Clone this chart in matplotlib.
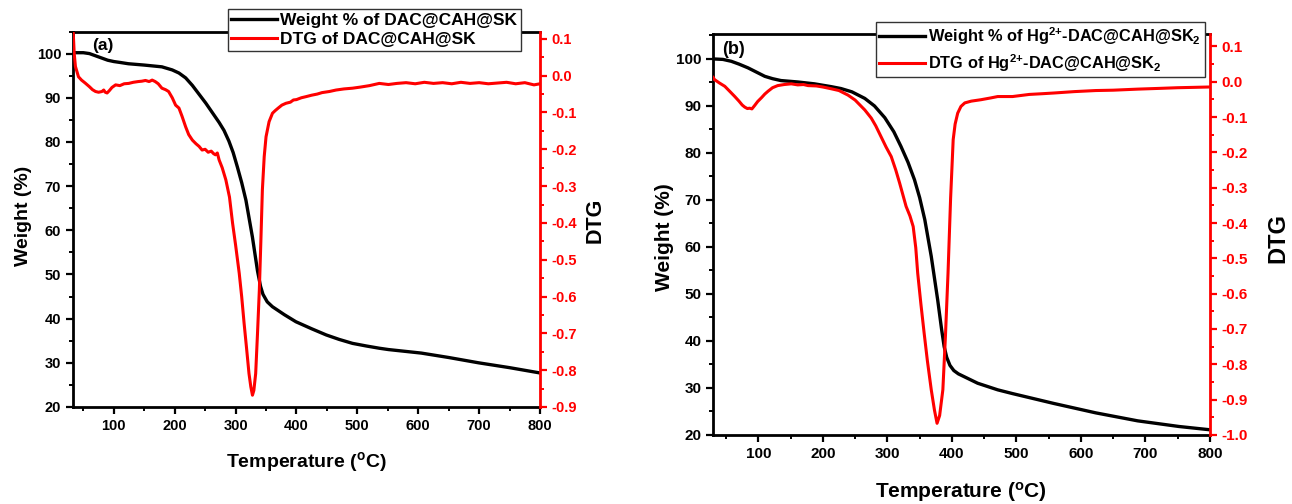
import matplotlib
matplotlib.use('Agg')
import matplotlib.pyplot as plt
from matplotlib.ticker import MultipleLocator, FuncFormatter

FONT = 'Liberation Sans'
plt.rcParams['font.family'] = [FONT, 'DejaVu Sans']
plt.rcParams['font.weight'] = 'bold'
plt.rcParams['mathtext.fontset'] = 'custom'
plt.rcParams['mathtext.rm'] = FONT + ':bold'
plt.rcParams['mathtext.bf'] = FONT + ':bold'
plt.rcParams['mathtext.default'] = 'bf'

# (a) DAC@CAH@SK
temp_wa = [33, 50, 60, 70, 80, 90, 100, 110, 124, 150, 179, 196, 207, 218, 229, 240, 251, 262,
           273, 281, 289, 296, 303, 310, 317, 327.6, 336, 341, 345, 352, 360.5, 380, 399, 425,
           449, 470, 492, 515, 536, 551, 605, 650, 699, 750, 800]
weight_a = [100.2, 100.2, 100.0, 99.5, 99.0, 98.5, 98.2, 98.0, 97.7, 97.4, 97.0, 96.3, 95.6,
            94.5, 92.8, 90.8, 88.8, 86.6, 84.4, 82.6, 80.2, 77.6, 74.3, 70.8, 66.8, 58.5, 50.8,
            47.3, 45.5, 43.8, 42.7, 40.9, 39.3, 37.7, 36.3, 35.3, 34.4, 33.8, 33.3, 33.0, 32.2,
            31.2, 30.0, 28.9, 27.7]
temp_da = [33, 35, 37, 42, 47, 53, 60, 65, 70, 75, 80.6, 83.4, 86, 89, 93, 97, 103, 110, 117,
           124.5, 132, 140, 146, 152, 158, 163, 168, 173, 179, 185, 190, 196, 201.5, 207, 212,
           218, 223, 229, 235, 240, 245, 250, 255, 260, 264, 267, 270, 273, 278, 284, 290, 295,
           300, 306, 310, 314, 318, 322, 325, 327.7, 330, 333, 336, 339, 341.5, 344, 347, 350,
           355, 360.6, 365, 370, 376, 382.7, 390, 395, 400, 408, 415.6, 425, 434, 442, 454, 465,
           478, 492, 505, 520, 536, 551, 565, 580, 595, 610, 625, 640, 655, 670, 685, 700, 715,
           730, 745, 760, 775, 790, 800]
dtg_a = [0.13, 0.06, 0.025, -0.003, -0.012, -0.020, -0.030, -0.038, -0.043, -0.045, -0.043,
         -0.039, -0.045, -0.047, -0.040, -0.032, -0.025, -0.027, -0.022, -0.021, -0.018, -0.016,
         -0.015, -0.013, -0.016, -0.012, -0.016, -0.022, -0.034, -0.038, -0.043, -0.060, -0.080,
         -0.088, -0.110, -0.139, -0.160, -0.175, -0.185, -0.192, -0.202, -0.200, -0.208, -0.205,
         -0.212, -0.215, -0.210, -0.229, -0.250, -0.283, -0.330, -0.400, -0.460, -0.537, -0.600,
         -0.673, -0.740, -0.809, -0.845, -0.868, -0.855, -0.809, -0.700, -0.583, -0.450, -0.310,
         -0.220, -0.166, -0.125, -0.102, -0.095, -0.088, -0.080, -0.075, -0.072, -0.066, -0.065,
         -0.060, -0.057, -0.053, -0.050, -0.046, -0.043, -0.039, -0.036, -0.034, -0.031, -0.027,
         -0.021, -0.024, -0.021, -0.019, -0.022, -0.018, -0.021, -0.019, -0.022, -0.018, -0.021,
         -0.019, -0.022, -0.020, -0.018, -0.022, -0.019, -0.025, -0.022]

# (b) Hg2+-DAC@CAH@SK2
temp_wb = [30, 45, 58, 70, 84, 97, 110, 122, 135, 161, 187, 213, 228, 245, 265, 280, 296, 310,
           321, 332, 342, 350, 358, 368, 378, 384, 388, 392, 397, 403, 410, 425, 440, 471, 494,
           558, 623, 688, 752, 800]
weight_b = [100.0, 99.9, 99.5, 98.9, 98.1, 97.2, 96.3, 95.8, 95.4, 95.1, 94.7, 94.1, 93.7, 93.0,
            91.6, 90.0, 87.5, 84.5, 81.4, 78.0, 74.3, 70.5, 65.8, 58.0, 48.7, 42.5, 38.8, 36.5,
            34.8, 33.7, 33.0, 32.0, 31.0, 29.6, 28.8, 26.7, 24.7, 23.0, 21.8, 21.1]
temp_db = [30, 32, 40, 48, 55, 63.5, 70, 75, 79, 83, 86.5, 90, 94, 99, 105, 110, 115, 122, 130,
           140, 151, 161, 170, 177, 190, 200, 213, 225, 239, 250, 265, 275, 282, 290, 298, 306,
           313, 319, 324, 329, 335, 340, 344, 347, 352, 357, 362, 368, 373, 377, 381, 386, 390,
           394, 398, 402, 405, 409, 414, 420, 430, 445, 460, 471, 494, 520, 540, 558, 590, 623,
           650, 688, 720, 750, 775, 798]
dtg_b = [0.012, 0.006, -0.004, -0.013, -0.026, -0.042, -0.055, -0.066, -0.072, -0.076, -0.075,
         -0.077, -0.068, -0.056, -0.045, -0.035, -0.027, -0.017, -0.011, -0.008, -0.006, -0.009,
         -0.008, -0.011, -0.012, -0.015, -0.020, -0.025, -0.038, -0.052, -0.080, -0.103, -0.125,
         -0.155, -0.185, -0.212, -0.250, -0.287, -0.320, -0.353, -0.380, -0.410, -0.470, -0.542,
         -0.630, -0.712, -0.790, -0.872, -0.930, -0.967, -0.945, -0.872, -0.720, -0.542, -0.330,
         -0.164, -0.120, -0.089, -0.070, -0.060, -0.055, -0.051, -0.046, -0.042, -0.042, -0.036,
         -0.034, -0.032, -0.028, -0.025, -0.024, -0.021, -0.019, -0.017, -0.016, -0.015]

fig = plt.figure(figsize=(12.92, 5.04), dpi=100)
ax_a = fig.add_axes([0.0565, 0.1925, 0.3615, 0.745])
ax_b = fig.add_axes([0.552, 0.137, 0.3845, 0.7955])


def style_panel(ax, ax2, xlim, ylim, y2lim, tick_fs):
    ax.set_xlim(*xlim)
    ax.set_ylim(*ylim)
    ax2.set_ylim(*y2lim)
    ax.xaxis.set_major_locator(MultipleLocator(100))
    ax.xaxis.set_minor_locator(MultipleLocator(50))
    ax.yaxis.set_major_locator(MultipleLocator(10))
    ax.yaxis.set_minor_locator(MultipleLocator(5))
    ax2.yaxis.set_major_locator(MultipleLocator(0.1))
    ax2.yaxis.set_minor_locator(MultipleLocator(0.05))
    ax2.yaxis.set_major_formatter(FuncFormatter(lambda v, p: f'{v:.1f}'.replace('-0.0', '0.0')))
    for s in ['left', 'bottom', 'top']:
        ax.spines[s].set_linewidth(2.0)
        ax.spines[s].set_color('black')
    ax.spines['right'].set_visible(False)
    for s in ['left', 'bottom', 'top']:
        ax2.spines[s].set_visible(False)
    ax2.spines['right'].set_linewidth(2.0)
    ax2.spines['right'].set_color('red')
    ax.tick_params(which='major', direction='out', length=5, width=1.6, labelsize=tick_fs)
    ax.tick_params(which='minor', direction='out', length=3, width=1.4)
    ax2.tick_params(which='major', direction='out', length=5, width=1.6, labelsize=tick_fs,
                    colors='red')
    ax2.tick_params(which='minor', direction='out', length=3, width=1.4, colors='red')


ax_a2 = ax_a.twinx()
la, = ax_a.plot(temp_wa, weight_a, color='black', lw=2.4)
lb, = ax_a2.plot(temp_da, dtg_a, color='red', lw=2.2)
style_panel(ax_a, ax_a2, (33, 800), (20, 105), (-0.9, 0.12), 10.5)
ax_a.text(0.04, 0.983, '(a)', transform=ax_a.transAxes, fontsize=12.5, va='top', ha='left')
fig.text(306 / 1292, 1 - 462 / 504, 'Temperature ($^{o}$C)', fontsize=14, ha='center', va='center')
fig.text(24 / 1292, 1 - 216 / 504, 'Weight (%)', fontsize=14, rotation=90, ha='center', va='center')
fig.text(595 / 1292, 1 - 220 / 504, 'DTG', fontsize=15.5, rotation=90, ha='center', va='center')
fig.legend([la, lb], ['Weight % of DAC@CAH@SK', 'DTG of DAC@CAH@SK'],
           loc='upper left', bbox_to_anchor=(228 / 1292, 1 - 9 / 504), fontsize=12.5,
           frameon=True, fancybox=False, edgecolor='#333333', framealpha=1, handlelength=2.6,
           handletextpad=0.2, borderpad=0.2, labelspacing=0.25, borderaxespad=0)

ax_b2 = ax_b.twinx()
lc, = ax_b.plot(temp_wb, weight_b, color='black', lw=2.4)
ld, = ax_b2.plot(temp_db, dtg_b, color='red', lw=2.2)
style_panel(ax_b, ax_b2, (30, 800), (20, 105.3), (-1.0, 0.135), 11)
ax_b.text(0.018, 0.982, '(b)', transform=ax_b.transAxes, fontsize=13, va='top', ha='left')
fig.text(961 / 1292, 1 - 492 / 504, 'Temperature ($^{o}$C)', fontsize=15, ha='center', va='center')
fig.text(665 / 1292, 1 - 237 / 504, 'Weight (%)', fontsize=15, rotation=90, ha='center', va='center')
fig.text(1278 / 1292, 1 - 238 / 504, 'DTG', fontsize=17, rotation=90, ha='center', va='center')
fig.legend([lc, ld], [r'Weight % of Hg$^{2{+}}$-DAC@CAH@SK$_{2}$',
                      r'DTG of Hg$^{2{+}}$-DAC@CAH@SK$_{2}$'],
           loc='upper left', bbox_to_anchor=(876 / 1292, 1 - 22 / 504), fontsize=11.8,
           frameon=True, fancybox=False, edgecolor='#333333', framealpha=1, handlelength=2.8,
           handletextpad=0.2, borderpad=0.2, labelspacing=0.3, borderaxespad=0)

fig.savefig('out.png', dpi=100)
